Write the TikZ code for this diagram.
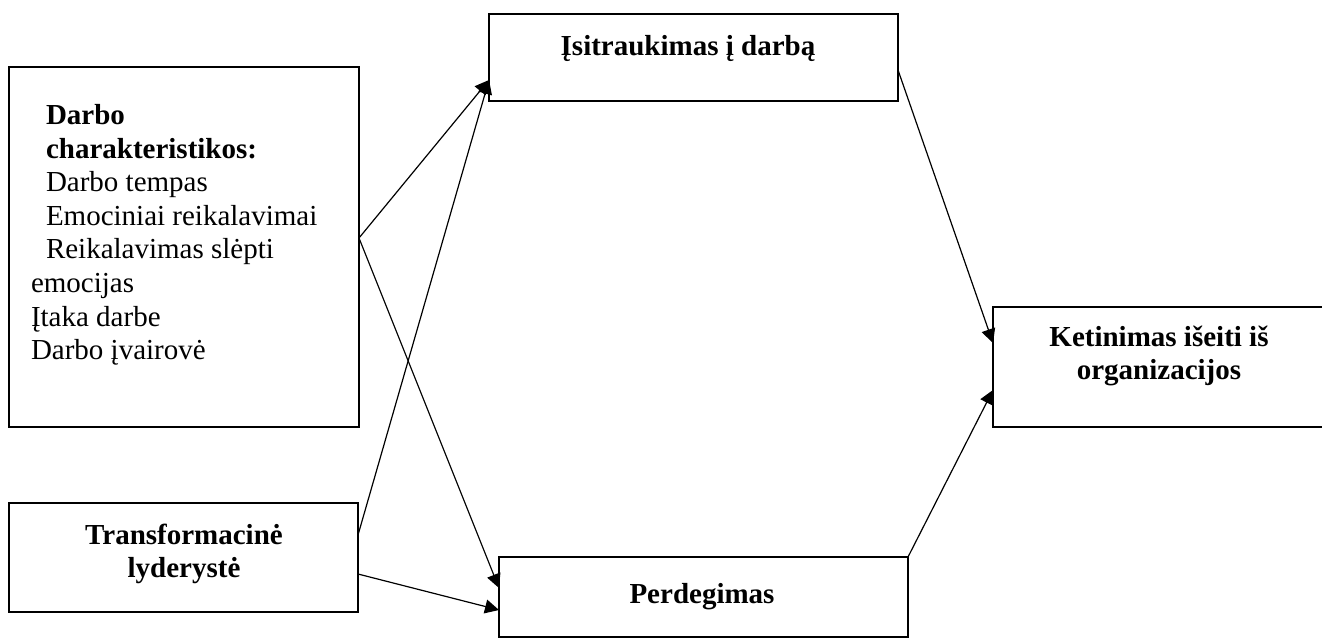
\documentclass[tikz,border=0pt]{standalone}
\usepackage{fontspec}
\setmainfont{Liberation Serif}
\usetikzlibrary{arrows.meta}
\begin{document}
\begin{tikzpicture}[x=1pt,y=-1pt,
  box/.style={draw,line width=2.8pt,rectangle,inner sep=0pt,outer sep=0pt},
  txt/.style={inner sep=0pt,outer sep=0pt,font=\fontsize{29}{33.6}\selectfont},
  conn/.style={line width=1.2pt,-{Triangle[length=14pt,width=14pt]}}]
\useasboundingbox (0,0) rectangle (1322,640);
\fill[white] (0,0) rectangle (1322,640);
\clip (0,0) rectangle (1322,640);

% boxes
\node[box,minimum width=350pt,minimum height=360pt] (A) at (184,247) {};
\node[box,minimum width=409pt,minimum height=87pt] (B) at (693.5,57.5) {};
\node[box,minimum width=409pt,minimum height=80pt] (P) at (703.5,597) {};
\node[box,minimum width=332pt,minimum height=120pt] (K) at (1159,367) {};
\node[box,minimum width=349pt,minimum height=109pt] (T) at (183.5,557.5) {};

% texts
\node[txt,anchor=base west] (At) at (31,124.5) {\begin{tabular}[t]{@{}l@{}}
\hspace*{15pt}\textbf{Darbo}\\
\hspace*{15pt}\textbf{charakteristikos:}\\
\hspace*{15pt}Darbo tempas\\
\hspace*{15pt}Emociniai reikalavimai\\
\hspace*{15pt}Reikalavimas slėpti\\
emocijas\\
Įtaka darbe\\
Darbo įvairovė
\end{tabular}};
\node[txt,anchor=base] (Bt) at (688,55) {\textbf{Įsitraukimas į darbą}};
\node[txt,anchor=base] (Pt) at (702,603) {\textbf{Perdegimas}};
\node[txt,anchor=base] (Kt) at (1159,346) {\begin{tabular}[t]{@{}c@{}}\textbf{Ketinimas išeiti iš}\\\textbf{organizacijos}\end{tabular}};
\node[txt,anchor=base] (Tt) at (184,544) {\begin{tabular}[t]{@{}c@{}}\textbf{Transformacinė}\\\textbf{lyderystė}\end{tabular}};

% connectors
\draw[conn] ([yshift=9pt]A.east) -- ([yshift=-22.5pt]B.west);
\draw[conn] ([yshift=9pt]A.east) -- ([yshift=9pt]P.west);
\draw[conn] ([yshift=22.5pt]T.east) -- ([yshift=-22.5pt]B.west);
\draw[conn] ([yshift=-16.5pt]T.east) -- ([yshift=-13pt]P.west);
\draw[conn] ([yshift=-12.5pt]B.east) -- ([yshift=24pt]K.west);
\draw[conn] (P.north east) -- ([yshift=-23pt]K.west);
\end{tikzpicture}
\end{document}
